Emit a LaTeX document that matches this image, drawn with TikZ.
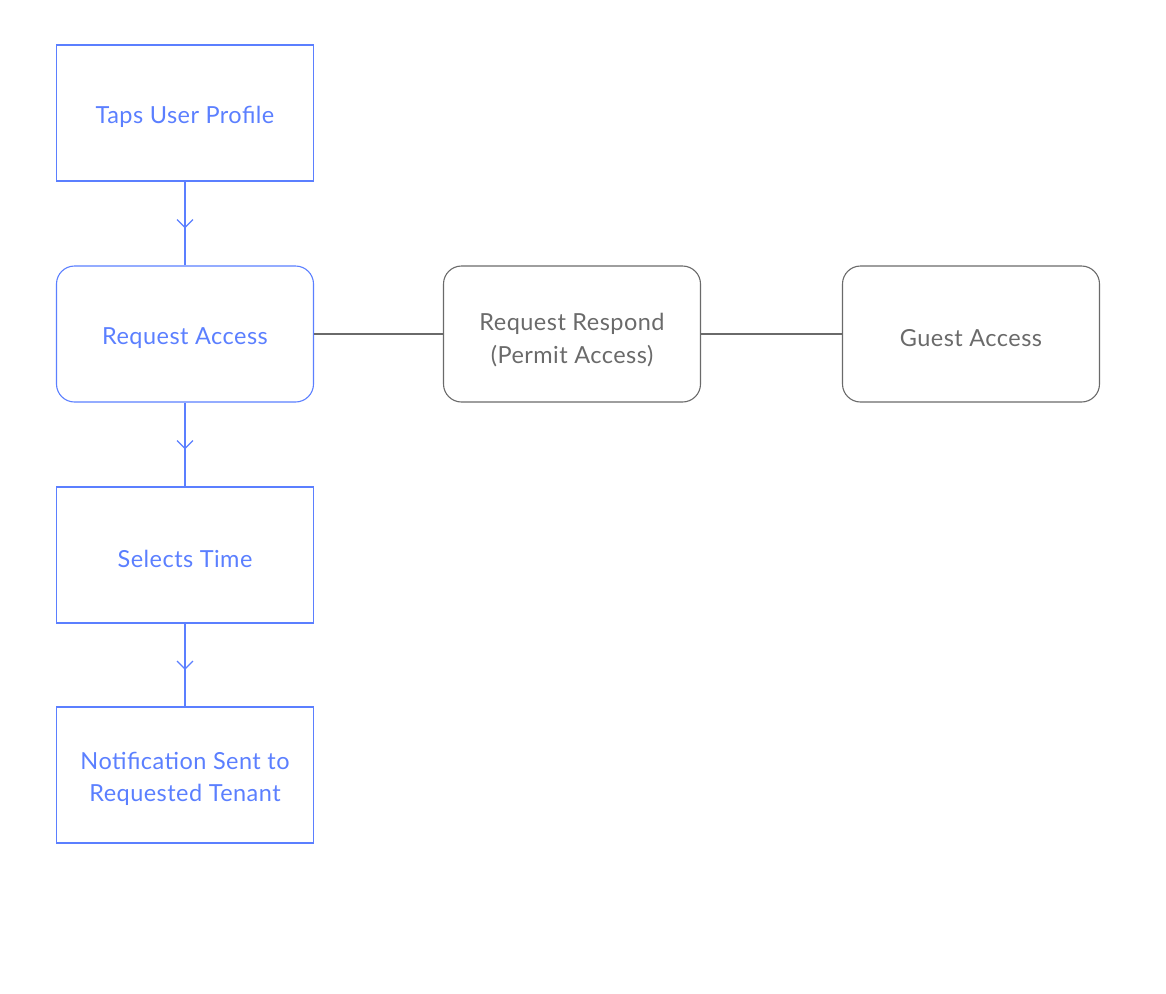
\documentclass[tikz,border=0pt]{standalone}
\usepackage{fontspec}
\setmainfont{Lato}[LetterSpace=2]
\usetikzlibrary{calc}
\definecolor{fblue}{HTML}{5B7FFF}
\definecolor{fgray}{HTML}{6A6A6A}
\begin{document}
\begin{tikzpicture}[x=1pt,y=-1pt,
  box/.style={line width=1.1pt,minimum width=257pt,minimum height=136pt,inner sep=0pt},
  bbox/.style={box,draw=fblue},
  rbbox/.style={bbox,rounded corners=18pt},
  gbox/.style={box,draw=fgray,rounded corners=18pt},
  lbl/.style={font=\fontsize{23.5}{32.5}\selectfont,align=center,inner sep=0pt,yshift=-4pt},
  blbl/.style={lbl,text=fblue},
  glbl/.style={lbl,text=fgray},
  flow/.style={draw=fblue,line width=1.1pt},
  chev/.style={draw=fblue,line width=1.1pt},
  gline/.style={draw=fgray,line width=1.1pt}]
\useasboundingbox (0,0) rectangle (1166,993);
\node[bbox,label={[blbl]center:Taps User Profile}] (taps) at (185,113) {};
\node[rbbox,label={[blbl]center:Request Access}] (req) at (185,334) {};
\node[bbox,label={[blbl]center:Selects Time}] (sel) at (185,555) {};
\node[bbox,label={[blbl]center:Notification Sent to\\Requested Tenant}] (notif) at (185,775) {};
\node[gbox,label={[glbl,yshift=-2pt]center:Request Respond\\(Permit Access)}] (resp) at (572,334) {};
\node[gbox,label={[glbl]center:Guest Access}] (guest) at (971,334) {};
\draw[flow] (taps.south) -- coordinate[pos=0.5] (m1) (req.north);
\draw[flow] (req.south) -- coordinate[pos=0.5] (m2) (sel.north);
\draw[flow] (sel.south) -- coordinate[pos=0.5] (m3) (notif.north);
\foreach \m in {m1,m2,m3}
  \draw[chev] ($(\m)+(-8,-4)$) -- ($(\m)+(0,4)$) -- ($(\m)+(8,-4)$);
\draw[gline] (req.east) -- (resp.west);
\draw[gline] (resp.east) -- (guest.west);
\end{tikzpicture}
\end{document}
